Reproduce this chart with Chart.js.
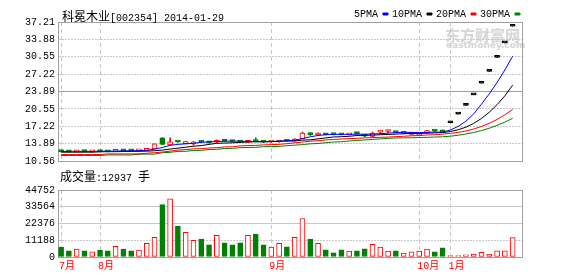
<!DOCTYPE html>
<html>
<head>
<meta charset="utf-8">
<script src="https://cdn.jsdelivr.net/npm/chart.js@4.4.1/dist/chart.umd.min.js"></script>
<style>
  body { margin: 0; background: #fff; }
  #wrap { position: relative; width: 578px; height: 276px; overflow: hidden; background: #fff; }
  canvas { position: absolute; left: 0; }
  .txt { position: absolute; white-space: nowrap; color: #000; font: 10px "Liberation Mono", monospace; line-height: 12px; }
  .cjk { font: 12px "Noto Sans CJK SC", sans-serif; }
  .mark { position: absolute; white-space: nowrap; color: #d6d6d6; }
</style>
</head>
<body>
<div id="wrap">
  <div class="mark" style="left:445px;top:24px;font:bold 15px 'Noto Sans CJK SC';">东方财富网</div>
  <div class="mark" style="left:446px;top:40px;font:bold 9px 'DejaVu Sans';">eastmoney.com</div>
  <canvas id="price" width="578" height="170" style="top:0"></canvas>
  <canvas id="volume" width="578" height="106" style="top:170px"></canvas>
  <div class="txt" style="left:62px;top:7px;"><span class="cjk">科冕木业</span>[002354] 2014-01-29</div>
  <div class="txt" style="left:60px;top:167px;"><span class="cjk">成交量</span>:12937 <span class="cjk">手</span></div>
</div>
<script>
// trading days shown (stock suspended mid-Oct 2013 .. mid-Jan 2014)
const dates = [
  '2013-07-25', '2013-07-26', '2013-07-29', '2013-07-30', '2013-07-31',
  '2013-08-01', '2013-08-02', '2013-08-05', '2013-08-06', '2013-08-07', '2013-08-08', '2013-08-09',
  '2013-08-12', '2013-08-13', '2013-08-14', '2013-08-15', '2013-08-16', '2013-08-19', '2013-08-20',
  '2013-08-21', '2013-08-22', '2013-08-23', '2013-08-26', '2013-08-27', '2013-08-28', '2013-08-29', '2013-08-30',
  '2013-09-02', '2013-09-03', '2013-09-04', '2013-09-05', '2013-09-06', '2013-09-09', '2013-09-10',
  '2013-09-11', '2013-09-12', '2013-09-13', '2013-09-16', '2013-09-17', '2013-09-18', '2013-09-23',
  '2013-09-24', '2013-09-25', '2013-09-26', '2013-09-27', '2013-09-30',
  '2013-10-08', '2013-10-09', '2013-10-10', '2013-10-11',
  '2014-01-17', '2014-01-20', '2014-01-21', '2014-01-22', '2014-01-23', '2014-01-24', '2014-01-27', '2014-01-28', '2014-01-29'
];
const opens = [
  12.45, 12.40, 12.30, 12.42, 12.30, 12.45, 12.40, 12.40, 12.60, 12.55,
  12.50, 12.60, 12.90, 15.00, 13.64, 14.30, 13.90, 13.85, 14.35, 14.20,
  14.15, 14.50, 14.40, 14.35, 14.15, 14.40, 14.35, 14.20, 14.20, 14.50,
  14.40, 14.86, 15.75, 15.55, 15.75, 15.70, 15.70, 15.60, 15.90, 15.45,
  15.25, 16.10, 16.22, 16.15, 15.85, 15.65, 15.50, 15.97, 16.40, 16.47,
  17.89, 19.55, 21.21, 23.24, 25.46, 27.73, 30.44, 33.21, 36.40
];
const highs = [
  12.50, 12.45, 12.50, 12.45, 12.45, 12.50, 12.45, 12.60, 12.65, 12.60,
  12.65, 12.90, 13.85, 15.05, 15.00, 14.35, 14.30, 14.30, 14.40, 14.30,
  14.60, 14.55, 14.45, 14.40, 14.50, 15.00, 14.40, 14.35, 14.50, 14.55,
  14.85, 16.10, 15.95, 15.95, 15.80, 15.75, 15.75, 15.75, 15.95, 15.55,
  16.10, 16.45, 16.50, 16.20, 16.20, 16.05, 15.85, 16.45, 16.50, 16.50,
  17.89, 19.55, 21.21, 23.24, 25.46, 27.73, 30.44, 33.21, 36.40
];
const lows = [
  12.30, 12.25, 12.28, 12.30, 12.25, 12.32, 12.30, 12.35, 12.45, 12.45,
  12.45, 12.55, 12.85, 13.70, 13.60, 14.10, 13.85, 13.60, 14.10, 14.00,
  14.10, 14.30, 14.20, 14.10, 14.10, 14.25, 14.10, 14.15, 14.15, 14.35,
  14.35, 14.80, 15.45, 15.45, 15.55, 15.55, 15.55, 15.55, 15.75, 15.20,
  15.20, 15.75, 16.00, 15.95, 15.80, 15.60, 15.45, 15.90, 16.20, 16.10,
  17.89, 19.55, 21.21, 23.24, 25.46, 27.73, 30.44, 33.21, 36.40
];
const closes = [
  12.35, 12.30, 12.42, 12.35, 12.40, 12.38, 12.33, 12.55, 12.50, 12.50,
  12.60, 12.85, 13.83, 13.75, 14.25, 14.20, 14.25, 14.25, 14.20, 14.05,
  14.50, 14.35, 14.30, 14.20, 14.45, 14.30, 14.20, 14.30, 14.45, 14.40,
  14.75, 15.91, 15.62, 15.65, 15.60, 15.62, 15.60, 15.70, 15.80, 15.30,
  15.90, 16.18, 16.30, 16.00, 16.10, 15.95, 15.78, 16.40, 16.30, 16.15,
  17.89, 19.55, 21.21, 23.24, 25.46, 27.73, 30.44, 33.21, 36.40
];
const volumes = [
  6600, 4100, 5300, 4100, 3500, 4600, 4100, 7200, 5300, 4100,
  4600, 9200, 13200, 35000, 38800, 20600, 16500, 11200, 12000, 8100,
  14500, 9400, 8100, 9400, 14500, 15300, 8100, 6600, 9200, 6800,
  13200, 25700, 12000, 9200, 4800, 2800, 4800, 3900, 4100, 5400,
  8500, 6600, 3900, 4100, 2600, 3500, 3900, 5300, 3500, 6100,
  900, 900, 1400, 2000, 3100, 2000, 4100, 4100, 12937
];
const ma5 = [
  12.40, 12.40, 12.42, 12.40, 12.40, 12.42, 12.45, 12.45, 12.50, 12.52,
  12.53, 12.60, 12.83, 13.14, 13.57, 13.75, 13.85, 13.95, 14.15, 14.22,
  14.28, 14.35, 14.38, 14.36, 14.30, 14.28, 14.25, 14.28, 14.35, 14.45,
  14.55, 14.86, 15.20, 15.45, 15.60, 15.67, 15.67, 15.67, 15.70, 15.70,
  15.72, 15.80, 15.90, 16.00, 16.05, 16.05, 16.00, 16.05, 16.10, 16.10,
  16.50, 17.20, 18.20, 19.60, 21.47, 23.44, 25.62, 28.02, 30.65
];
const ma10 = [
  12.25, 12.25, 12.25, 12.25, 12.25, 12.32, 12.35, 12.35, 12.38, 12.40,
  12.42, 12.45, 12.52, 12.65, 12.85, 13.02, 13.20, 13.40, 13.51, 13.75,
  13.95, 14.00, 14.05, 14.13, 14.20, 14.25, 14.25, 14.28, 14.35, 14.38,
  14.40, 14.56, 14.62, 14.80, 14.99, 15.17, 15.22, 15.30, 15.45, 15.49,
  15.52, 15.60, 15.65, 15.72, 15.78, 15.85, 15.85, 15.90, 15.95, 16.00,
  16.21, 16.55, 17.05, 17.77, 18.73, 19.91, 21.36, 23.06, 25.09
];
const ma20 = [
  11.80, 11.80, 11.80, 11.80, 11.80, 11.80, 11.92, 11.92, 11.92, 11.92,
  11.92, 12.05, 12.15, 12.28, 12.45, 12.65, 12.75, 12.88, 12.92, 13.05,
  13.12, 13.25, 13.30, 13.45, 13.52, 13.55, 13.65, 13.70, 13.75, 13.88,
  14.05, 14.20, 14.35, 14.45, 14.60, 14.70, 14.78, 14.85, 14.90, 15.00,
  15.05, 15.10, 15.15, 15.23, 15.30, 15.40, 15.45, 15.55, 15.60, 15.70,
  15.86, 16.04, 16.32, 16.70, 17.19, 17.79, 18.53, 19.41, 20.44
];
const ma30 = [
  11.62, 11.62, 11.62, 11.62, 11.62, 11.62, 11.72, 11.72, 11.72, 11.72,
  11.88, 11.88, 11.88, 12.15, 12.22, 12.40, 12.42, 12.58, 12.60, 12.76,
  12.80, 12.95, 12.98, 13.12, 13.15, 13.18, 13.30, 13.33, 13.36, 13.50,
  13.60, 13.70, 13.85, 13.92, 14.07, 14.20, 14.25, 14.40, 14.50, 14.60,
  14.70, 14.80, 14.90, 14.98, 15.00, 15.02, 15.06, 15.10, 15.15, 15.20,
  15.32, 15.50, 15.73, 16.03, 16.40, 16.85, 17.39, 18.02, 18.75
];
const priceTicks = [10.56, 13.89, 17.22, 20.55, 23.89, 27.22, 30.55, 33.88, 37.21];
const volumeTicks = [0, 11188, 22376, 33564, 44752];

const RED = '#ff0000', GREEN = '#008000', BLUE = '#0000ff', BLACK = '#000000';
const FRAME = '#a0a0a0', GRID = '#c8c8c8';

const monthStarts = dates.map((d, i) => i)
  .filter(i => i === 0 || dates[i].slice(5, 7) !== dates[i - 1].slice(5, 7));
const monthLabel = i => parseInt(dates[i].slice(5, 7), 10) + '月';
const candleColor = i => closes[i] > opens[i] ? RED : (closes[i] < opens[i] ? GREEN : BLACK);
const pts = arr => arr.map((v, i) => ({ x: i, y: v }));

Chart.defaults.font.family = '"Liberation Mono", "Noto Sans CJK SC", monospace';
Chart.defaults.font.size = 10;
Chart.defaults.color = '#000';

const xScale = (showLabels, height) => ({
  type: 'linear',
  min: -0.4,
  max: 59.2,
  offset: false,
  afterBuildTicks: s => { s.ticks = monthStarts.map(v => ({ value: v })); },
  afterFit: s => { s.height = height; },
  grid: { color: GRID, drawTicks: false, offset: false },
  border: { color: FRAME, dash: [4, 3] },
  ticks: {
    display: showLabels, autoSkip: false, maxRotation: 0, align: 'start',
    labelOffset: -2, padding: 3, color: RED,
    callback: v => monthLabel(v)
  }
});

const rightEdge = {
  position: 'right',
  afterFit: s => { s.width = 2; },
  grid: { display: false, drawTicks: false },
  ticks: { display: false },
  border: { color: FRAME }
};

const initPrice = () => {
  const solid = c => c.index === 0 || c.index === 4 || c.index === priceTicks.length - 1;
  new Chart(document.getElementById('price'), {
    data: {
      datasets: [
        { type: 'line', label: '5PMA', data: pts(ma5), borderColor: BLUE, backgroundColor: BLUE, borderWidth: 1, pointRadius: 0, order: 0 },
        { type: 'line', label: '10PMA', data: pts(ma10), borderColor: BLACK, backgroundColor: BLACK, borderWidth: 1, pointRadius: 0, order: 0 },
        { type: 'line', label: '20PMA', data: pts(ma20), borderColor: RED, backgroundColor: RED, borderWidth: 1, pointRadius: 0, order: 0 },
        { type: 'line', label: '30PMA', data: pts(ma30), borderColor: GREEN, backgroundColor: GREEN, borderWidth: 1, pointRadius: 0, order: 0 },
        {
          type: 'bar', label: 'body',
          data: opens.map((o, i) => ({ x: i, y: [o, closes[i]] })),
          barThickness: 5, minBarLength: 2, grouped: false,
          borderWidth: 1, borderSkipped: false,
          borderColor: c => candleColor(c.dataIndex),
          backgroundColor: c => closes[c.dataIndex] > opens[c.dataIndex] ? '#ffffff' : candleColor(c.dataIndex),
          order: 1
        },
        {
          type: 'bar', label: 'wick',
          data: lows.map((l, i) => ({ x: i, y: [l, highs[i]] })),
          barThickness: 1, grouped: false, borderWidth: 0,
          backgroundColor: c => candleColor(c.dataIndex),
          order: 2
        }
      ]
    },
    options: {
      responsive: false,
      animation: false,
      events: [],
      layout: { padding: { left: 0, right: 54, top: 5, bottom: 0 } },
      plugins: {
        tooltip: { enabled: false },
        legend: {
          position: 'top', align: 'start', rtl: true, reverse: true, maxHeight: 17,
          labels: {
            boxWidth: 5, boxHeight: 2, padding: 4, color: '#000',
            filter: item => /PMA$/.test(item.text)
          }
        }
      },
      scales: {
        x: xScale(false, 4),
        y: {
          min: 10.56,
          max: 37.21,
          afterBuildTicks: s => { s.ticks = priceTicks.map(v => ({ value: v })); },
          afterFit: s => { s.width = 58; },
          grid: { drawTicks: false, color: c => solid(c) ? FRAME : GRID },
          border: { color: FRAME, dash: c => solid(c) ? [] : [2, 1] },
          ticks: { padding: 3, callback: v => v.toFixed(2) }
        },
        yr: rightEdge
      }
    }
  });
};

const initVolume = () => {
  new Chart(document.getElementById('volume'), {
    type: 'bar',
    data: {
      datasets: [{
        label: '成交量',
        data: pts(volumes),
        barThickness: 5,
        borderWidth: 1,
        borderSkipped: false,
        borderColor: c => closes[c.dataIndex] >= opens[c.dataIndex] ? RED : GREEN,
        backgroundColor: c => closes[c.dataIndex] >= opens[c.dataIndex] ? '#ffffff' : GREEN
      }]
    },
    options: {
      responsive: false,
      animation: false,
      events: [],
      layout: { padding: { left: 0, right: 54, top: 20, bottom: 0 } },
      plugins: { legend: { display: false }, tooltip: { enabled: false } },
      scales: {
        x: xScale(true, 19),
        y: {
          min: 0,
          max: 44752,
          afterBuildTicks: s => { s.ticks = volumeTicks.map(v => ({ value: v })); },
          afterFit: s => { s.width = 58; },
          grid: { drawTicks: false, color: c => (c.index === 0 || c.index === 4) ? FRAME : GRID },
          border: { color: FRAME, dash: c => c.index === 1 ? [2, 1] : [] },
          ticks: { padding: 3, callback: v => String(v) }
        },
        yr: rightEdge
      }
    }
  });
};

initPrice();
initVolume();
</script>
</body>
</html>
